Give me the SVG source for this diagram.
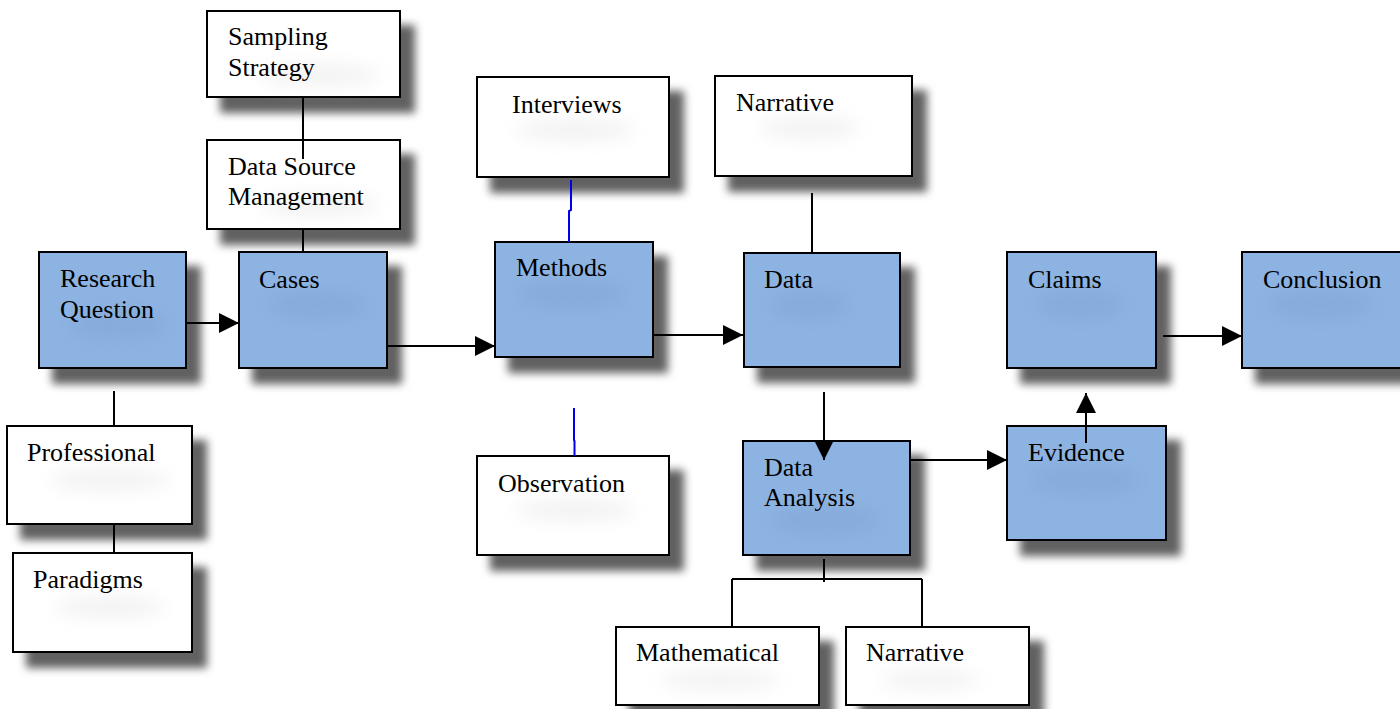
<svg xmlns="http://www.w3.org/2000/svg" width="1400" height="709" viewBox="0 0 1400 709">
  <defs>
    <filter id="shadow" x="-20%" y="-20%" width="150%" height="160%">
      <feDropShadow dx="14" dy="15" stdDeviation="4.5" flood-color="#000" flood-opacity="0.62"/>
    </filter>
    <filter id="soft" x="-50%" y="-100%" width="200%" height="300%">
      <feGaussianBlur stdDeviation="9"/>
    </filter>
    <marker id="arrow" markerUnits="userSpaceOnUse" markerWidth="21" markerHeight="21" refX="20" refY="10" orient="auto">
      <path d="M0,0 L20,10 L0,20 z" fill="#000"/>
    </marker>
  </defs>
  <style>
    .box { stroke: #000; stroke-width: 2; filter: url(#shadow); }
    .white { fill: #fff; }
    .blue { fill: #8db3e2; }
    .smudge-w { fill: #d8d8d8; opacity: 0.35; filter: url(#soft); }
    .smudge-b { fill: #7a9fcf; opacity: 0.35; filter: url(#soft); }
    text { font-family: "Liberation Serif", "Times New Roman", serif; font-size: 26px; fill: #000; }
    .line { fill: none; stroke: #000; stroke-width: 2; }
    .arr { fill: none; stroke: #000; stroke-width: 2; marker-end: url(#arrow); }
    .blueline { fill: none; stroke: #0000ee; stroke-width: 2; }
  </style>

  <rect width="1400" height="709" fill="#fff"/>

  <g id="sampling-strategy">
    <rect class="box white" x="207" y="11" width="193" height="86"/>
    <ellipse class="smudge-w" cx="320" cy="75" rx="60" ry="10"/>
    <text x="228" y="45">Sampling</text>
    <text x="228" y="76">Strategy</text>
  </g>

  <g id="data-source-management">
    <rect class="box white" x="207" y="140" width="193" height="89"/>
    <ellipse class="smudge-w" cx="320" cy="205" rx="60" ry="10"/>
    <text x="228" y="175">Data Source</text>
    <text x="228" y="205">Management</text>
  </g>

  <g id="research-question">
    <rect class="box blue" x="39" y="252" width="147" height="116"/>
    <ellipse class="smudge-b" cx="118" cy="325" rx="50" ry="14"/>
    <text x="60" y="287">Research</text>
    <text x="60" y="318">Question</text>
  </g>

  <g id="cases">
    <rect class="box blue" x="239" y="252" width="148" height="116"/>
    <ellipse class="smudge-b" cx="318" cy="305" rx="50" ry="14"/>
    <text x="259" y="288">Cases</text>
  </g>

  <g id="professional">
    <rect class="box white" x="7" y="426" width="185" height="98"/>
    <ellipse class="smudge-w" cx="110" cy="480" rx="60" ry="10"/>
    <text x="27" y="461">Professional</text>
  </g>

  <g id="paradigms">
    <rect class="box white" x="13" y="553" width="179" height="99"/>
    <ellipse class="smudge-w" cx="110" cy="607" rx="55" ry="10"/>
    <text x="33" y="588">Paradigms</text>
  </g>

  <g id="interviews">
    <rect class="box white" x="477" y="77" width="192" height="100"/>
    <ellipse class="smudge-w" cx="575" cy="130" rx="60" ry="10"/>
    <text x="512" y="113">Interviews</text>
  </g>

  <g id="methods">
    <rect class="box blue" x="495" y="242" width="158" height="115"/>
    <ellipse class="smudge-b" cx="572" cy="295" rx="55" ry="14"/>
    <text x="516" y="276">Methods</text>
  </g>

  <g id="observation">
    <rect class="box white" x="477" y="456" width="192" height="99"/>
    <ellipse class="smudge-w" cx="575" cy="510" rx="60" ry="10"/>
    <text x="498" y="492">Observation</text>
  </g>

  <g id="narrative-source">
    <rect class="box white" x="715" y="76" width="197" height="100"/>
    <ellipse class="smudge-w" cx="810" cy="128" rx="50" ry="10"/>
    <text x="736" y="111">Narrative</text>
  </g>

  <g id="data">
    <rect class="box blue" x="744" y="253" width="156" height="114"/>
    <ellipse class="smudge-b" cx="810" cy="305" rx="40" ry="14"/>
    <text x="764" y="288">Data</text>
  </g>

  <g id="data-analysis">
    <rect class="box blue" x="743" y="441" width="167" height="114"/>
    <ellipse class="smudge-b" cx="826" cy="520" rx="55" ry="14"/>
    <text x="764" y="476">Data</text>
    <text x="764" y="506">Analysis</text>
  </g>

  <g id="evidence">
    <rect class="box blue" x="1007" y="426" width="159" height="114"/>
    <ellipse class="smudge-b" cx="1085" cy="480" rx="55" ry="14"/>
    <text x="1028" y="461">Evidence</text>
  </g>

  <g id="claims">
    <rect class="box blue" x="1007" y="252" width="149" height="116"/>
    <ellipse class="smudge-b" cx="1080" cy="305" rx="45" ry="14"/>
    <text x="1028" y="288">Claims</text>
  </g>

  <g id="conclusion">
    <rect class="box blue" x="1242" y="252" width="170" height="116"/>
    <ellipse class="smudge-b" cx="1320" cy="305" rx="55" ry="14"/>
    <text x="1263" y="288">Conclusion</text>
  </g>

  <g id="mathematical">
    <rect class="box white" x="616" y="627" width="203" height="78"/>
    <ellipse class="smudge-w" cx="720" cy="680" rx="60" ry="9"/>
    <text x="636" y="661">Mathematical</text>
  </g>

  <g id="narrative-analysis">
    <rect class="box white" x="846" y="627" width="183" height="78"/>
    <ellipse class="smudge-w" cx="930" cy="680" rx="50" ry="9"/>
    <text x="866" y="661">Narrative</text>
  </g>

  <g id="connectors">
    <!-- flow arrows -->
    <path class="arr" d="M186,323 H239"/>
    <path class="arr" d="M387,346 H495"/>
    <path class="arr" d="M653,335 H743"/>
    <path class="arr" d="M824,392 V460"/>
    <path class="arr" d="M910,460 H1007"/>
    <path class="arr" d="M1086,443 V393"/>
    <path class="arr" d="M1163,336 H1242"/>
    <!-- plain links -->
    <path class="line" d="M303,97 V159"/>
    <path class="line" d="M303,229 V252"/>
    <path class="line" d="M114,391 V426"/>
    <path class="line" d="M114,524 V553"/>
    <path class="line" d="M812,193 V253"/>
    <path class="line" d="M824,559 V582"/>
    <path class="line" d="M732,579 H922"/>
    <path class="line" d="M732,579 V627"/>
    <path class="line" d="M922,579 V627"/>
    <!-- method links -->
    <path class="blueline" d="M571,180 V210 L569,211 V242"/>
    <path class="blueline" d="M574,408 V440 L574.5,441 V456"/>
  </g>
</svg>
